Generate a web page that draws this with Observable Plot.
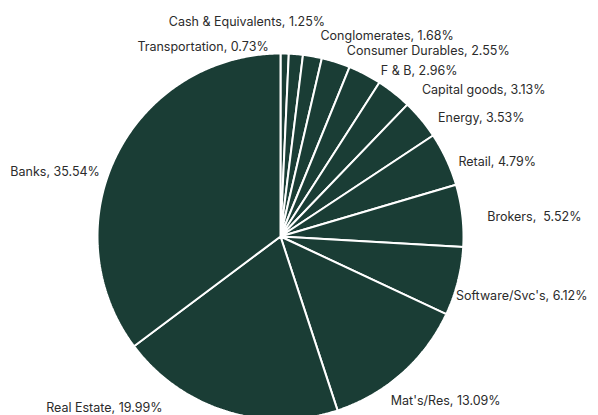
<!DOCTYPE html>
<html>
<head>
<meta charset="utf-8">
<script src="https://cdn.jsdelivr.net/npm/d3@7"></script>
<script src="https://cdn.jsdelivr.net/npm/@observablehq/plot@0.6"></script>
<style>
  html, body { margin: 0; padding: 0; background: #fff; }
  #chart { width: 598px; height: 415px; overflow: hidden; }
</style>
</head>
<body>
<div id="chart"></div>
<script>
// Data (clockwise from 12 o'clock)
const sectors = ["Transportation", "Cash & Equivalents", "Conglomerates", "Consumer Durables", "F & B", "Capital goods", "Energy", "Retail", "Brokers", "Software/Svc's", "Mat's/Res", "Real Estate", "Banks"];
const shares = [0.73, 1.25, 1.68, 2.55, 2.96, 3.13, 3.53, 4.79, 5.52, 6.12, 13.09, 19.99, 35.54];
const labelText = ["Transportation, 0.73%", "Cash & Equivalents, 1.25%", "Conglomerates, 1.68%", "Consumer Durables, 2.55%", "F & B, 2.96%", "Capital goods, 3.13%", "Energy, 3.53%", "Retail, 4.79%", "Brokers,  5.52%", "Software/Svc's, 6.12%", "Mat's/Res, 13.09%", "Real Estate, 19.99%", "Banks, 35.54%"];

// Label layout: nudge from the slice's outer-edge midpoint, and text anchor
const labelNudge = [[-16, -7], [-49, -32], [8, -20], [11, -11], [16, -3], [28, -3], [17, -1], [12, 3], [25, 1], [-2, 15], [-11, 27], [-63, -3], [-17, 17]];
const labelAnchor = ["end", "middle", "start", "start", "start", "start", "start", "start", "start", "start", "start", "end", "end"];

const R = 183;
const arcs = d3.pie().sort(null).value(d => d)(shares);

const slicePts = [];
arcs.forEach((a, i) => {
  slicePts.push({k: sectors[i], x: 0, y: 0});
  const n = Math.max(2, Math.ceil((a.endAngle - a.startAngle) / (Math.PI / 360)));
  for (let j = 0; j <= n; j++) {
    const t = a.startAngle + (a.endAngle - a.startAngle) * j / n;
    slicePts.push({k: sectors[i], x: R * Math.sin(t), y: -R * Math.cos(t)});
  }
  slicePts.push({k: sectors[i], x: 0, y: 0});
});

const labels = arcs.map((a, i) => {
  const m = (a.startAngle + a.endAngle) / 2;
  return {
    text: labelText[i],
    x: R * Math.sin(m) + labelNudge[i][0],
    y: -R * Math.cos(m) + labelNudge[i][1],
    anchor: labelAnchor[i]
  };
});

const mkText = anchor => Plot.text(labels.filter(d => d.anchor === anchor), {
  x: "x", y: "y", text: "text", textAnchor: anchor,
  fill: "#2b2b2b", fontSize: 12.5, fontFamily: "Inter, 'Noto Sans', sans-serif"
});

const chart = Plot.plot({
  width: 598,
  height: 415,
  margin: 0,
  x: {domain: [-280, 318], range: [0, 598], axis: null},
  y: {domain: [-236, 179], range: [0, 415], axis: null},
  style: {background: "#fff"},
  marks: [
    Plot.line(slicePts, {x: "x", y: "y", z: "k", fill: "#1a3d35", stroke: "#fff", strokeWidth: 2, strokeLinejoin: "miter", curve: "linear"}),
    mkText("start"), mkText("middle"), mkText("end")
  ]
});
document.getElementById("chart").append(chart);
</script>
</body>
</html>
